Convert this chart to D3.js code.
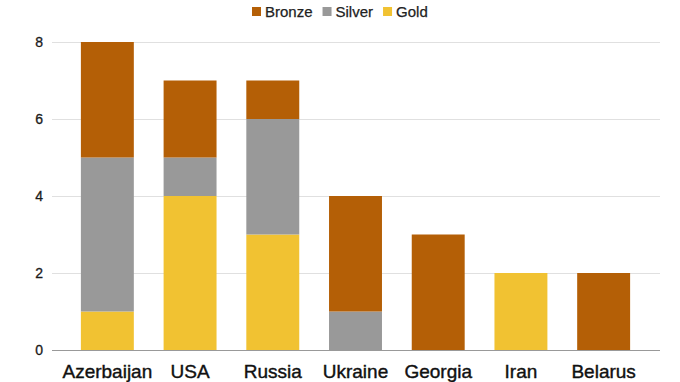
<!DOCTYPE html>
<html>
<head>
<meta charset="utf-8">
<script src="https://cdn.jsdelivr.net/npm/d3@7"></script>
<style>
  body { margin: 0; background: #fff; }
  svg { display: block; font-family: "Liberation Sans", Arial, sans-serif; }
</style>
</head>
<body>
<svg width="680" height="382"></svg>
<script>
const countries = ['Azerbaijan', 'USA', 'Russia', 'Ukraine', 'Georgia', 'Iran', 'Belarus'];
const gold = [1, 4, 3, 0, 0, 2, 0];
const silver = [4, 1, 3, 1, 0, 0, 0];
const bronze = [3, 2, 1, 3, 3, 0, 2];
const medals = ['Gold', 'Silver', 'Bronze'];
const legendOrder = ['Bronze', 'Silver', 'Gold'];
const yTicks = [0, 2, 4, 6, 8];

const colors = { Gold: '#f1c232', Silver: '#999999', Bronze: '#b45f06' };

const rows = countries.map((c, i) => ({ country: c, Gold: gold[i], Silver: silver[i], Bronze: bronze[i] }));
const series = d3.stack().keys(medals)(rows);

const svg = d3.select('svg');
const gridLeft = 52, gridRight = 660;

const x = d3.scaleBand().domain(countries).range([66, 645]).paddingInner(0.36).paddingOuter(0.18);
const y = d3.scaleLinear().domain([0, 8]).range([350, 42]);

// gridlines
svg.append('g')
  .selectAll('line')
  .data(yTicks)
  .join('line')
  .attr('x1', gridLeft).attr('x2', gridRight)
  .attr('y1', d => y(d) + 0.5).attr('y2', d => y(d) + 0.5)
  .attr('stroke', d => d === 0 ? '#999' : '#e0e0e0')
  .attr('stroke-width', 1);

// y tick labels
svg.append('g')
  .selectAll('text')
  .data(yTicks)
  .join('text')
  .attr('x', 43)
  .attr('y', d => y(d))
  .attr('dy', '0.35em')
  .attr('text-anchor', 'end')
  .attr('font-size', 14)
  .attr('fill', '#1a1a1a')
  .attr('stroke', '#1a1a1a')
  .attr('stroke-width', 0.3)
  .text(d => d);

// bars
svg.append('g')
  .selectAll('g')
  .data(series)
  .join('g')
  .attr('fill', d => colors[d.key])
  .selectAll('rect')
  .data(d => d.filter(s => s[1] > s[0]))
  .join('rect')
  .attr('x', d => x(d.data.country))
  .attr('width', x.bandwidth())
  .attr('y', d => y(d[1]))
  .attr('height', d => y(d[0]) - y(d[1]));

// redraw baseline over bars
svg.append('line')
  .attr('x1', gridLeft).attr('x2', gridRight)
  .attr('y1', y(0) + 0.5).attr('y2', y(0) + 0.5)
  .attr('stroke', '#999');

// category labels
svg.append('g')
  .selectAll('text')
  .data(countries)
  .join('text')
  .attr('x', d => x(d) + x.bandwidth() / 2)
  .attr('y', 378)
  .attr('text-anchor', 'middle')
  .attr('font-size', 19)
  .attr('fill', '#111')
  .attr('stroke', '#111')
  .attr('stroke-width', 0.4)
  .text(d => d);

// legend
const legend = svg.append('g')
  .attr('font-size', 15)
  .attr('fill', '#222')
  .attr('stroke', '#222')
  .attr('stroke-width', 0.25);
let lx = 252;
legendOrder.forEach(k => {
  legend.append('rect')
    .attr('x', lx).attr('y', 7).attr('width', 9).attr('height', 9)
    .attr('stroke', 'none')
    .attr('fill', colors[k]);
  const t = legend.append('text')
    .attr('x', lx + 13).attr('y', 16.5)
    .text(k);
  lx += 13 + t.node().getComputedTextLength() + 10;
});
</script>
</body>
</html>
